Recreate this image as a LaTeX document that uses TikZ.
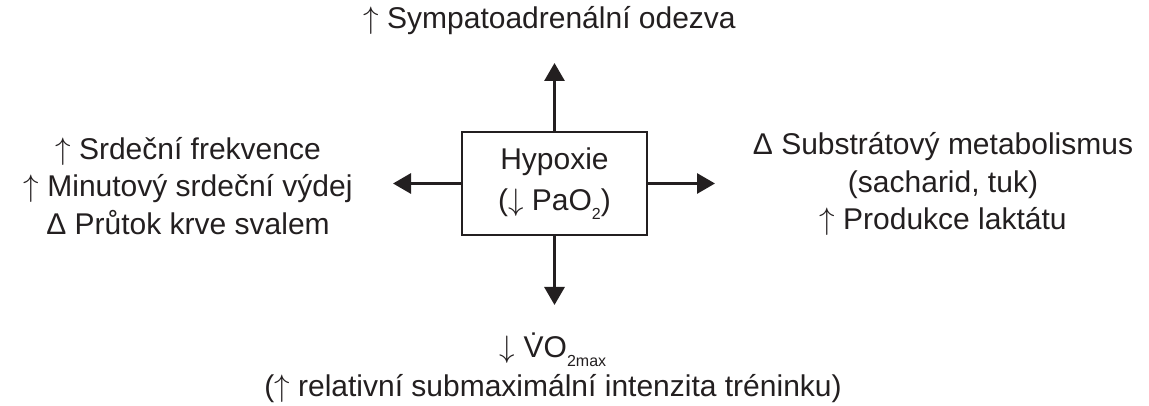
\documentclass[tikz,border=0pt]{standalone}
\usepackage{graphicx}
\usepackage{fontspec}
\setmainfont{Liberation Sans}
\usetikzlibrary{arrows.meta}
\definecolor{ink}{HTML}{231F20}
\newcommand{\upa}{\scalebox{3.1}{\fontsize{10}{12}\selectfont$\uparrow$}}
\newcommand{\dna}{\scalebox{3.1}{\fontsize{10}{12}\selectfont$\downarrow$}}
\newcommand{\lowsub}[1]{\raisebox{-0.28em}{\fontsize{16}{16}\selectfont #1}}
\begin{document}
\begin{tikzpicture}[x=1pt,y=1pt,
  lbl/.style={align=center,font=\fontsize{30}{37.5}\selectfont,text=ink,inner sep=0pt},
  hbox/.style={draw=ink,line width=2pt,minimum width=185pt,minimum height=103pt,align=center,font=\fontsize{30}{41}\selectfont,text=ink,inner sep=0pt},
  arr/.style={draw=ink,line width=3pt,-{Triangle[length=18pt,width=20pt]}}]
\useasboundingbox (0,0) rectangle (1149,406);
\node[hbox] (hyp) at (554.5,222.5) {Hypoxie\\(\dna\ PaO\lowsub{2})};
\node[lbl] (top) at (549.5,385) {\upa\ Sympatoadrenální odezva};
\node[lbl] (left) at (188,220) {\upa\ Srdeční frekvence\\\upa\ Minutový srdeční výdej\\Δ Průtok krve svalem};
\node[lbl] (right) at (943,222) {Δ Substrátový metabolismus\\(sacharid, tuk)\\\upa\ Produkce laktátu};
\node[lbl,font=\fontsize{30}{39}\selectfont] (bot) at (553,38) {\dna\ \.{V}O\lowsub{2max}\\(\upa\ relativní submaximální intenzita tréninku)};
\coordinate (upE) at (554.5,343);
\coordinate (downE) at (554.5,101);
\coordinate (leftE) at (393,222.5);
\coordinate (rightE) at (715,222.5);
\draw[arr] (hyp.north) -- (upE);
\draw[arr] (hyp.south) -- (downE);
\draw[arr] (hyp.west) -- (leftE);
\draw[arr] (hyp.east) -- (rightE);
\end{tikzpicture}
\end{document}
